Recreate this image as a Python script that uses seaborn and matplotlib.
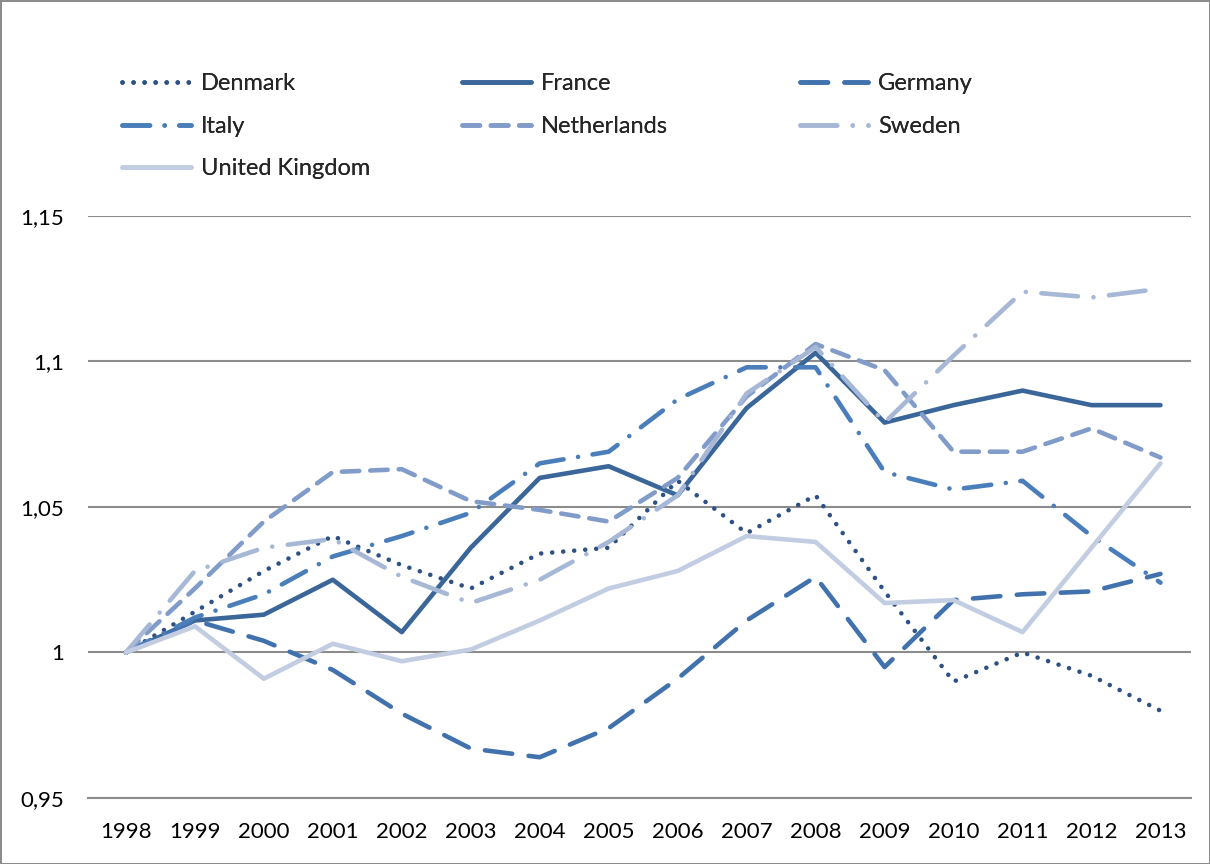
import matplotlib
matplotlib.use('Agg')
import matplotlib.pyplot as plt
import pandas as pd
import seaborn as sns

sns.set_theme(style="white")
plt.rcParams['font.family'] = ['Lato', 'DejaVu Sans']

years = list(range(1998, 2014))
denmark = [1.0, 1.014, 1.028, 1.040, 1.030, 1.022, 1.034, 1.036, 1.059, 1.041, 1.054, 1.021, 0.990, 1.000, 0.992, 0.980]
france = [1.0, 1.011, 1.013, 1.025, 1.007, 1.036, 1.060, 1.064, 1.054, 1.084, 1.103, 1.079, 1.085, 1.090, 1.085, 1.085]
germany = [1.0, 1.011, 1.004, 0.994, 0.979, 0.967, 0.964, 0.974, 0.991, 1.011, 1.026, 0.995, 1.018, 1.020, 1.021, 1.027]
italy = [1.0, 1.012, 1.020, 1.033, 1.040, 1.048, 1.065, 1.069, 1.087, 1.098, 1.098, 1.062, 1.056, 1.059, 1.040, 1.024]
netherlands = [1.0, 1.022, 1.045, 1.062, 1.063, 1.052, 1.049, 1.045, 1.060, 1.088, 1.106, 1.097, 1.069, 1.069, 1.077, 1.067]
sweden = [1.0, 1.028, 1.036, 1.039, 1.026, 1.017, 1.025, 1.038, 1.054, 1.089, 1.105, 1.079, 1.102, 1.124, 1.122, 1.125]
uk = [1.0, 1.009, 0.991, 1.003, 0.997, 1.001, 1.011, 1.022, 1.028, 1.040, 1.038, 1.017, 1.018, 1.007, 1.036, 1.065]

countries = ['Denmark', 'France', 'Germany', 'Italy', 'Netherlands', 'Sweden', 'United Kingdom']
values = [denmark, france, germany, italy, netherlands, sweden, uk]
yticks = [0.95, 1.0, 1.05, 1.1, 1.15]
ytick_labels = ['0,95', '1', '1,05', '1,1', '1,15']

colors = {'Denmark': '#2D5183', 'France': '#3A6699', 'Germany': '#4272AD',
          'Italy': '#4A7EBB', 'Netherlands': '#819CC9', 'Sweden': '#A7B8D6',
          'United Kingdom': '#C2CDE1'}
styles = {'Denmark': (0, (0.01, 2.4)), 'France': '-', 'Germany': (0, (6, 3.6)),
          'Italy': (0, (6, 3.2, 0.01, 3.2)), 'Netherlands': (0, (3.8, 2.4)),
          'Sweden': (0, (8, 3.4, 0.01, 3.4)), 'United Kingdom': '-'}

df = pd.DataFrame({'year': years * len(countries),
                   'country': [c for c in countries for _ in years],
                   'value': [v for vals in values for v in vals]})

fig = plt.figure(figsize=(12.1, 8.64), dpi=100)
fig.patch.set_edgecolor('#8C8C8C')
fig.patch.set_linewidth(2)
ax = fig.add_axes([0.0727, 0.0764, 0.912, 0.6736])

lines = {}
for c in countries:
    sub = df[df['country'] == c]
    sns.lineplot(data=sub, x='year', y='value', ax=ax, color=colors[c],
                 linestyle=styles[c], linewidth=3.3, label=c, legend=False)
    ln = ax.lines[-1]
    ln.set_dash_capstyle('round')
    ln.set_solid_capstyle('round')
    lines[c] = ln

ax.set_xlim(1997.45, 2013.45)
ax.set_ylim(0.95, 1.15)
ax.set_yticks(yticks)
ax.set_yticklabels(ytick_labels)
ax.set_xticks(years)
ax.set_xticklabels([str(y) for y in years])
ax.yaxis.grid(True, color='#8C8C8C', linewidth=1.5)
ax.set_axisbelow(True)
for s in ['top', 'right', 'left']:
    ax.spines[s].set_visible(False)
ax.spines['bottom'].set_color('#8C8C8C')
ax.spines['bottom'].set_linewidth(1.5)
ax.tick_params(axis='both', length=0, labelsize=16, colors='black')
ax.tick_params(axis='x', pad=17)
ax.tick_params(axis='y', pad=17)
ax.set_xlabel('')
ax.set_ylabel('')

cols = [(['Denmark', 'Italy', 'United Kingdom'], 0.101),
        (['France', 'Netherlands'], 0.382),
        (['Germany', 'Sweden'], 0.661)]
for names, x0 in cols:
    leg = fig.legend([lines[n] for n in names], names, loc='upper left',
                     bbox_to_anchor=(x0, 0.915), frameon=False, fontsize=17,
                     handlelength=2.9, handletextpad=0.42, labelspacing=0.91,
                     borderpad=0, borderaxespad=0)
    fig.add_artist(leg)

fig.savefig('out.png', dpi=100)
